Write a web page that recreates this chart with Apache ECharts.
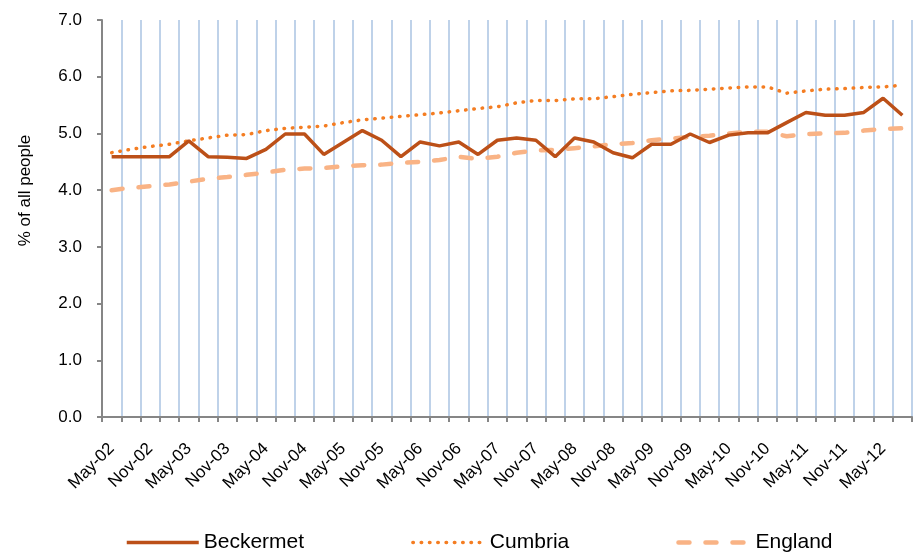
<!DOCTYPE html>
<html>
<head>
<meta charset="utf-8">
<script src="https://cdn.jsdelivr.net/npm/echarts@6/dist/echarts.min.js"></script>
<style>html,body{margin:0;padding:0;background:#fff}#c{width:913px;height:556px}</style>
</head>
<body>
<div id="c"></div>
<script>
const categories = [
  'May-02','Aug-02','Nov-02','Feb-03','May-03','Aug-03','Nov-03','Feb-04','May-04','Aug-04',
  'Nov-04','Feb-05','May-05','Aug-05','Nov-05','Feb-06','May-06','Aug-06','Nov-06','Feb-07',
  'May-07','Aug-07','Nov-07','Feb-08','May-08','Aug-08','Nov-08','Feb-09','May-09','Aug-09',
  'Nov-09','Feb-10','May-10','Aug-10','Nov-10','Feb-11','May-11','Aug-11','Nov-11','Feb-12',
  'May-12','Aug-12'
];
const beckermet = [
  4.59,4.59,4.59,4.59,4.87,4.59,4.58,4.56,4.72,4.99,
  4.99,4.63,4.84,5.05,4.88,4.59,4.85,4.78,4.85,4.63,
  4.88,4.92,4.88,4.59,4.92,4.85,4.66,4.57,4.81,4.81,
  4.99,4.84,4.97,5.01,5.01,5.19,5.37,5.32,5.32,5.37,
  5.62,5.32
];
const cumbria = [
  4.66,4.72,4.77,4.81,4.87,4.92,4.97,4.98,5.05,5.09,
  5.11,5.13,5.19,5.24,5.27,5.30,5.33,5.36,5.40,5.44,
  5.47,5.54,5.58,5.58,5.61,5.61,5.65,5.69,5.72,5.75,
  5.76,5.78,5.80,5.82,5.82,5.71,5.75,5.78,5.79,5.81,
  5.82,5.85
];
const england = [
  4.00,4.04,4.07,4.10,4.15,4.20,4.23,4.27,4.31,4.36,
  4.38,4.39,4.42,4.44,4.45,4.48,4.50,4.53,4.59,4.55,
  4.59,4.66,4.70,4.71,4.74,4.77,4.81,4.83,4.88,4.91,
  4.94,4.96,5.00,5.03,5.03,4.95,4.99,5.00,5.01,5.05,
  5.08,5.09
];
const yTicks = [0,1,2,3,4,5,6,7];

const font = 'Liberation Sans, Arial, sans-serif';
const chart = echarts.init(document.getElementById('c'), null, {renderer:'canvas'});
chart.setOption({
  animation: false,
  backgroundColor: '#fff',
  grid: {left: 102, right: 1, top: 20, bottom: 139, containLabel: false},
  legend: {
    left: 125, top: 532, padding: 0, itemWidth: 72, itemHeight: 22, itemGap: 107,
    itemStyle: {opacity: 0},
    lineStyle: {width: 'inherit'},
    textStyle: {fontSize: 21, color: '#000', fontFamily: font},
    data: ['Beckermet','Cumbria','England']
  },
  xAxis: {
    type: 'category', data: categories, boundaryGap: true,
    axisLine: {show: true, lineStyle: {color: '#868686', width: 2}},
    axisTick: {show: true, interval: 0, length: 5, lineStyle: {color: '#868686', width: 2}},
    axisLabel: {interval: 1, rotate: 45, fontSize: 17, color: '#000', fontFamily: font,
      margin: 29, verticalAlign: 'middle', align: 'right'},
    splitLine: {show: true, interval: 0, lineStyle: {color: '#BFD2E9', width: 2}}
  },
  yAxis: {
    type: 'value', min: yTicks[0], max: yTicks[yTicks.length-1], interval: 1,
    name: '% of all people', nameLocation: 'middle', nameGap: 68, nameRotate: 90,
    nameTextStyle: {fontSize: 17, color: '#000', fontFamily: font, padding: [0, 0, 0, 56]},
    axisLine: {show: true, lineStyle: {color: '#868686', width: 2}},
    axisTick: {show: true, length: 5, lineStyle: {color: '#868686', width: 2}},
    axisLabel: {fontSize: 17, color: '#000', fontFamily: font, margin: 20,
      formatter: v => v.toFixed(1)},
    splitLine: {show: false}
  },
  series: [
    {name: 'Beckermet', type: 'line', data: beckermet, symbol: 'none', z: 3,
     lineStyle: {color: '#BC5018', width: 3.5}, itemStyle: {color: '#BC5018'}},
    {name: 'Cumbria', type: 'line', data: cumbria, symbol: 'none', z: 2,
     lineStyle: {color: '#F47D22', width: 3.5, type: [0.5, 7.8], cap: 'round'}, itemStyle: {color: '#F47D22'}},
    {name: 'England', type: 'line', data: england, symbol: 'none', z: 1,
     lineStyle: {color: '#F9B385', width: 4.5, type: [11, 16], cap: 'round'}, itemStyle: {color: '#F9B385'}}
  ]
});
</script>
</body>
</html>
